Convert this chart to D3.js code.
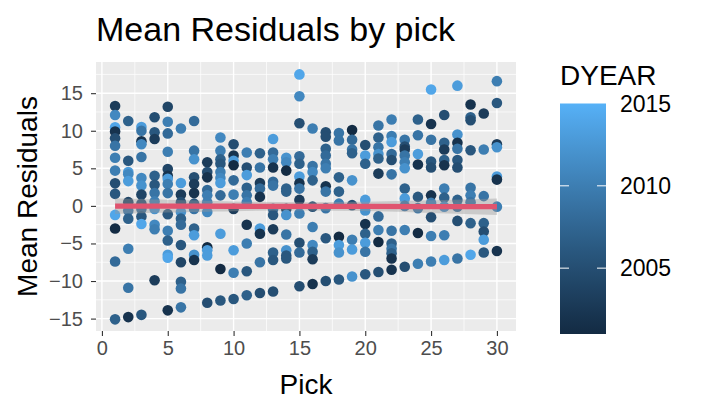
<!DOCTYPE html>
<html>
<head>
<meta charset="utf-8">
<script src="https://cdn.jsdelivr.net/npm/d3@7"></script>
<style>
  body { margin: 0; background: #fff; }
  svg { display: block; font-family: "Liberation Sans", Arial, sans-serif; }
</style>
</head>
<body>
<svg id="chart"></svg>
<script>
// [pick, mean residual, draft year]
const residualPoints = [
  [1,13.3,2003],[1,12.1,2011],[1,10.45,2014],[1,9.9,2002],[1,9.0,2005],[1,8.0,2009],[1,6.4,2010],[1,4.7,2010],[1,3.0,2005],[1,1.6,2006],[1,-1.2,2014],[1,-3.0,2001],[1,-7.4,2008],[1,-15.1,2007],
  [2,11.3,2007],[2,6.0,2006],[2,4.5,2013],[2,4.2,2011],[2,3.3,2013],[2,0.5,2004],[2,-0.6,2009],[2,-1.7,2007],[2,-5.7,2010],[2,-10.9,2009],[2,-14.8,2002],
  [3,10.5,2013],[3,10.0,2009],[3,8.6,2002],[3,8.2,2011],[3,6.5,2009],[3,3.7,2011],[3,2.7,2012],[3,1.5,2004],[3,0.3,2005],[3,-0.4,2008],[3,-1.4,2006],[3,-2.4,2014],[3,-14.5,2006],
  [4,11.8,2005],[4,9.8,2006],[4,8.9,2003],[4,4.0,2007],[4,2.8,2006],[4,1.7,2009],[4,0.6,2010],[4,-0.4,2012],[4,-2.5,2011],[4,-3.1,2010],[4,-9.9,2003],
  [5,13.2,2004],[5,11.2,2010],[5,9.65,2008],[5,7.2,2010],[5,4.9,2004],[5,4.0,2002],[5,3.6,2013],[5,2.9,2010],[5,1.7,2009],[5,-1.1,2006],[5,-3.3,2010],[5,-4.6,2007],[5,-6.5,2013],[5,-6.9,2014],[5,-13.9,2002],
  [6,10.3,2010],[6,3.05,2013],[6,1.5,2003],[6,0.5,2005],[6,-0.8,2012],[6,-1.7,2007],[6,-2.5,2008],[6,-5.2,2006],[6,-7.5,2004],[6,-10.1,2007],[6,-11.0,2009],[6,-13.5,2009],
  [7,11.3,2008],[7,7.35,2009],[7,6.2,2012],[7,3.8,2005],[7,2.9,2003],[7,1.7,2002],[7,0.3,2006],[7,-0.4,2009],[7,-3.0,2007],[7,-3.9,2013],[7,-6.5,2012],[7,-7.2,2002],
  [8,5.8,2003],[8,4.5,2005],[8,3.8,2002],[8,2.1,2008],[8,1.4,2010],[8,0.5,2010],[8,-0.8,2011],[8,-5.5,2001],[8,-5.9,2013],[8,-6.6,2013],[8,-12.9,2005],
  [9,9.1,2011],[9,7.35,2010],[9,6.2,2007],[9,5.6,2006],[9,4.5,2010],[9,3.7,2011],[9,3.05,2013],[9,1.4,2008],[9,-3.7,2013],[9,-8.4,2001],[9,-12.6,2006],
  [10,8.2,2005],[10,6.7,2002],[10,6.0,2013],[10,5.4,2001],[10,3.4,2008],[10,1.5,2010],[10,-0.4,2003],[10,-5.9,2013],[10,-8.9,2010],[10,-12.4,2006],
  [11,7.1,2010],[11,5.1,2005],[11,4.1,2013],[11,2.4,2007],[11,1.4,2009],[11,0.5,2010],[11,-2.5,2002],[11,-5.0,2010],[11,-8.7,2006],[11,-11.9,2007],
  [12,7.0,2007],[12,5.1,2009],[12,3.05,2003],[12,2.3,2008],[12,1.2,2002],[12,-3.0,2013],[12,-3.7,2002],[12,-7.5,2009],[12,-11.6,2005],
  [13,8.9,2013],[13,7.1,2008],[13,6.2,2010],[13,5.1,2002],[13,3.2,2008],[13,2.7,2009],[13,-0.4,2008],[13,-1.2,2006],[13,-3.1,2003],[13,-6.2,2007],[13,-7.2,2006],[13,-11.4,2005],
  [14,6.4,2012],[14,5.8,2011],[14,4.7,2001],[14,2.3,2007],[14,1.9,2007],[14,-0.4,2003],[14,-1.2,2012],[14,-3.8,2009],[14,-5.9,2012],[14,-6.6,2006],[14,-7.0,2006],
  [15,17.5,2014],[15,14.6,2011],[15,11.0,2005],[15,6.6,2008],[15,5.6,2007],[15,3.9,2013],[15,3.0,2002],[15,2.3,2009],[15,0.8,2003],[15,-1.0,2010],[15,-4.9,2005],[15,-6.2,2008],[15,-10.7,2005],
  [16,10.3,2010],[16,5.3,2009],[16,4.5,2011],[16,3.4,2007],[16,-0.1,2005],[16,-2.8,2010],[16,-5.2,2011],[16,-6.1,2007],[16,-7.1,2003],[16,-10.4,2002],
  [17,9.8,2005],[17,9.2,2005],[17,7.6,2007],[17,6.7,2008],[17,5.6,2009],[17,5.0,2010],[17,2.6,2002],[17,1.9,2009],[17,-0.3,2009],[17,-4.3,2006],[17,-10.0,2005],
  [18,9.7,2009],[18,8.7,2009],[18,3.8,2007],[18,1.9,2007],[18,0.3,2010],[18,-4.1,2001],[18,-5.2,2013],[18,-6.2,2012],[18,-9.8,2006],
  [19,10.1,2001],[19,8.8,2008],[19,7.5,2009],[19,7.0,2007],[19,3.4,2012],[19,0.1,2005],[19,-4.5,2010],[19,-5.8,2013],[19,-9.4,2012],
  [20,8.1,2005],[20,6.7,2013],[20,5.6,2007],[20,0.8,2013],[20,-0.6,2012],[20,-2.4,2002],[20,-3.7,2007],[20,-4.9,2013],[20,-6.1,2009],[20,-9.1,2006],
  [21,10.7,2009],[21,9.1,2007],[21,7.8,2009],[21,6.9,2012],[21,6.3,2007],[21,4.3,2003],[21,-1.4,2008],[21,-3.2,2010],[21,-4.8,2001],[21,-8.8,2005],
  [22,11.5,2010],[22,9.3,2010],[22,8.5,2013],[22,6.9,2008],[22,6.1,2005],[22,4.2,2009],[22,-3.3,2009],[22,-5.0,2007],[22,-5.7,2009],[22,-6.3,2007],[22,-7.0,2002],[22,-8.5,2002],
  [23,8.8,2009],[23,7.9,2005],[23,7.5,2003],[23,6.7,2009],[23,5.8,2010],[23,5.0,2012],[23,2.3,2007],[23,1.0,2013],[23,0.0,2009],[23,-3.2,2010],[23,-8.1,2005],
  [24,11.5,2007],[24,9.4,2009],[24,6.9,2013],[24,5.5,2002],[24,1.2,2006],[24,-0.3,2009],[24,-3.6,2001],[24,-7.7,2010],
  [25,15.5,2014],[25,10.9,2002],[25,8.8,2009],[25,5.9,2006],[25,5.1,2005],[25,1.4,2002],[25,0.4,2010],[25,-1.5,2005],[25,-4.0,2010],[25,-7.4,2010],
  [26,12.1,2005],[26,8.4,2007],[26,7.5,2003],[26,6.1,2007],[26,5.4,2002],[26,2.3,2010],[26,1.1,2007],[26,-0.1,2011],[26,-3.9,2010],[26,-7.2,2013],
  [27,16.0,2013],[27,9.5,2012],[27,8.4,2002],[27,7.6,2009],[27,6.1,2006],[27,5.1,2005],[27,0.8,2007],[27,-0.1,2008],[27,-2.0,2005],[27,-7.0,2009],
  [28,13.5,2002],[28,11.8,2007],[28,11.4,2005],[28,7.4,2006],[28,2.4,2009],[28,1.4,2010],[28,0.5,2009],[28,-2.3,2007],[28,-6.5,2014],
  [29,12.3,2003],[29,7.5,2010],[29,1.3,2009],[29,-2.3,2007],[29,-3.4,2005],[29,-4.5,2013],[29,-6.2,2006],
  [30,16.6,2010],[30,13.7,2006],[30,8.2,2003],[30,7.8,2012],[30,3.9,2013],[30,3.5,2002],[30,-0.1,2010],[30,-6.0,2002]
];

// smoother (lm fit with se band)
const smoothPicks = [1, 5, 10, 15, 20, 25, 30];
const smoothFit   = [-0.03, -0.04, -0.05, -0.06, -0.07, -0.09, -0.1];
const smoothHalf  = [1.05, 0.85, 0.65, 0.55, 0.62, 0.85, 1.1];

const xTicks = [0, 5, 10, 15, 20, 25, 30];
const yTicks = [-15, -10, -5, 0, 5, 10, 15];
const xMinor = [2.5, 7.5, 12.5, 17.5, 22.5, 27.5];
const yMinor = [-12.5, -7.5, -2.5, 2.5, 7.5, 12.5, 17.5];
const yearTicks = [2005, 2010, 2015];
const yearRange = [2001, 2015];

const W = 702, H = 418;
const panel = {left: 96, right: 516, top: 62, bottom: 331};

const svg = d3.select("#chart").attr("width", W).attr("height", H);

const x = d3.scaleLinear().domain([-0.45, 31.45]).range([panel.left, panel.right]);
const y = d3.scaleLinear().domain([-16.65, 19.15]).range([panel.bottom, panel.top]);
const color = d3.scaleLinear().domain(yearRange).range(["#132B43", "#56B1F7"])
    .interpolate(d3.interpolateLab);

// panel background and grid
svg.append("rect")
    .attr("x", panel.left).attr("y", panel.top)
    .attr("width", panel.right - panel.left).attr("height", panel.bottom - panel.top)
    .attr("fill", "#EBEBEB");

const grid = svg.append("g").attr("stroke", "#fff");
grid.selectAll(".xminor").data(xMinor).enter().append("line")
    .attr("x1", d => x(d)).attr("x2", d => x(d))
    .attr("y1", panel.top).attr("y2", panel.bottom).attr("stroke-width", 0.7);
grid.selectAll(".yminor").data(yMinor).enter().append("line")
    .attr("y1", d => y(d)).attr("y2", d => y(d))
    .attr("x1", panel.left).attr("x2", panel.right).attr("stroke-width", 0.7);
grid.selectAll(".xmajor").data(xTicks).enter().append("line")
    .attr("x1", d => x(d)).attr("x2", d => x(d))
    .attr("y1", panel.top).attr("y2", panel.bottom).attr("stroke-width", 1.4);
grid.selectAll(".ymajor").data(yTicks).enter().append("line")
    .attr("y1", d => y(d)).attr("y2", d => y(d))
    .attr("x1", panel.left).attr("x2", panel.right).attr("stroke-width", 1.4);

// points
svg.append("g").selectAll("circle")
    .data(residualPoints)
    .enter()
    .append("circle")
    .attr("cx", d => x(d[0]))
    .attr("cy", d => y(d[1]))
    .attr("r", 5.3)
    .attr("fill", d => color(d[2]));

// smoother band + line
const smooth = smoothPicks.map((p, i) => ({p: p, fit: smoothFit[i], half: smoothHalf[i]}));
svg.append("path")
    .datum(smooth)
    .attr("d", d3.area().curve(d3.curveNatural)
        .x(d => x(d.p)).y0(d => y(d.fit - d.half)).y1(d => y(d.fit + d.half)))
    .attr("fill", "#999999").attr("fill-opacity", 0.4);
svg.append("path")
    .datum(smooth)
    .attr("d", d3.line().x(d => x(d.p)).y(d => y(d.fit)))
    .attr("fill", "none").attr("stroke", "#E0546F").attr("stroke-width", 5.3);

// axes
const xAxis = svg.append("g")
    .attr("transform", `translate(0,${panel.bottom})`)
    .call(d3.axisBottom(x).tickValues(xTicks).tickSize(5).tickPadding(5));
const yAxis = svg.append("g")
    .attr("transform", `translate(${panel.left},0)`)
    .call(d3.axisLeft(y).tickValues(yTicks).tickSize(5).tickPadding(8));
[xAxis, yAxis].forEach(a => {
    a.select(".domain").remove();
    a.selectAll(".tick line").attr("stroke", "#333333").attr("stroke-width", 1.1);
    a.selectAll(".tick text").attr("fill", "#4D4D4D")
        .style("font-size", "20px").style("font-family", "'Liberation Sans', Arial, sans-serif");
});

svg.append("text")
    .attr("x", (panel.left + panel.right) / 2).attr("y", 394)
    .attr("text-anchor", "middle").style("font-size", "28px")
    .text("Pick");

svg.append("text")
    .attr("transform", `translate(37,${(panel.top + panel.bottom) / 2}) rotate(-90)`)
    .attr("text-anchor", "middle").style("font-size", "28px")
    .text("Mean Residuals");

svg.append("text")
    .attr("x", panel.left).attr("y", 41)
    .style("font-size", "34px")
    .text("Mean Residuals by pick");

// colour bar legend
const bar = {x: 560, w: 46, top: 103.5, bottom: 334};
const yearScale = d3.scaleLinear().domain(yearRange).range([bar.bottom, bar.top]);

const grad = svg.append("defs").append("linearGradient")
    .attr("id", "yearGrad").attr("x1", 0).attr("x2", 0).attr("y1", 1).attr("y2", 0);
grad.selectAll("stop")
    .data(d3.range(yearRange[0], yearRange[1] + 0.01, 1))
    .enter().append("stop")
    .attr("offset", d => (d - yearRange[0]) / (yearRange[1] - yearRange[0]))
    .attr("stop-color", d => color(d));

svg.append("text")
    .attr("x", bar.x).attr("y", 85)
    .style("font-size", "28px")
    .text("DYEAR");

svg.append("rect")
    .attr("x", bar.x).attr("y", bar.top)
    .attr("width", bar.w).attr("height", bar.bottom - bar.top)
    .attr("fill", "url(#yearGrad)");

// white tick marks only for breaks inside the bar
const innerTicks = yearTicks.filter(d => d > yearRange[0] && d < yearRange[1]);
const legendTicks = svg.append("g");
legendTicks.selectAll(".tl").data(innerTicks).enter().append("line")
    .attr("x1", bar.x).attr("x2", bar.x + 9)
    .attr("y1", d => yearScale(d)).attr("y2", d => yearScale(d))
    .attr("stroke", "#fff").attr("stroke-width", 1);
legendTicks.selectAll(".tr").data(innerTicks).enter().append("line")
    .attr("x1", bar.x + bar.w - 9).attr("x2", bar.x + bar.w)
    .attr("y1", d => yearScale(d)).attr("y2", d => yearScale(d))
    .attr("stroke", "#fff").attr("stroke-width", 1);
legendTicks.selectAll("text").data(yearTicks).enter().append("text")
    .attr("x", 620).attr("y", d => yearScale(d))
    .attr("dy", "0.36em")
    .style("font-size", "23px")
    .text(d => d);
</script>
</body>
</html>
